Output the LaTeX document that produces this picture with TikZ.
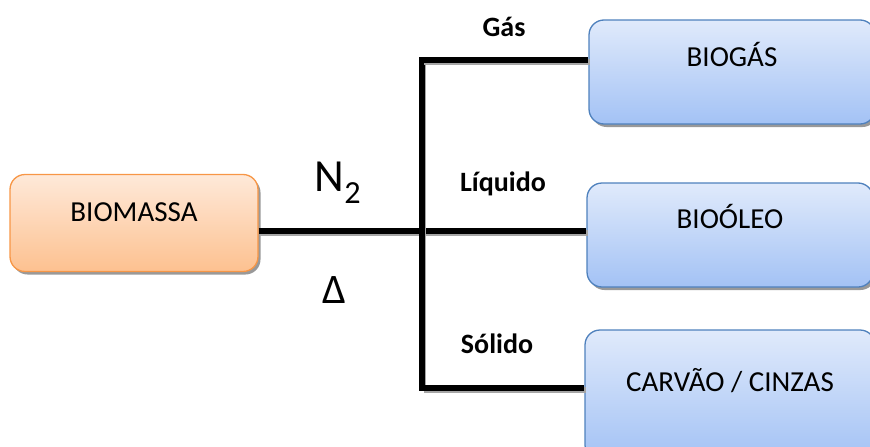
\documentclass[tikz,border=0pt]{standalone}
\usepackage{fontspec}
\setmainfont{Carlito}
\usetikzlibrary{shadows}
\definecolor{orTop}{HTML}{FEE9D9}
\definecolor{orBot}{HTML}{FDC190}
\definecolor{orLine}{HTML}{F79646}
\definecolor{blTop}{HTML}{E0EAFB}
\definecolor{blBot}{HTML}{A3C2F5}
\definecolor{blLine}{HTML}{4F81BD}
\newcommand{\uptext}[2]{\raisebox{#1}[0pt][0pt]{#2}}
\tikzset{
  boxbase/.style={rounded corners=15pt, line width=1.3pt, inner sep=0pt,
    font=\fontsize{29}{32}\selectfont,
    drop shadow={shadow xshift=2.5pt, shadow yshift=-3pt, fill=black!50, opacity=0.8}},
  orangebox/.style={boxbase, draw=orLine, top color=orTop, bottom color=orBot},
  bluebox/.style={boxbase, draw=blLine, top color=blTop, bottom color=blBot},
  conn/.style={line width=5.5pt, draw=black,
    preaction={draw=black!35, line width=5.5pt, transform canvas={xshift=1.5pt,yshift=-2pt}}},
  lbl/.style={font=\bfseries\fontsize{28}{32}\selectfont},
  sym/.style={font=\fontsize{42}{46}\selectfont}
}
\begin{document}
\begin{tikzpicture}[x=1pt,y=-1pt]
\useasboundingbox (0,0) rectangle (870,447);
\clip (0,0) rectangle (870,447);
% boxes
\node[orangebox, minimum width=248pt, minimum height=97pt] (bio) at (134,223) {\uptext{2pt}{BIOMASSA}};
\node[bluebox, minimum width=286pt, minimum height=104pt] (gas) at (732,72) {\uptext{6pt}{BIOGÁS}};
\node[bluebox, minimum width=286pt, minimum height=104pt] (oleo) at (730,235) {\uptext{7pt}{BIOÓLEO}};
\node[bluebox, minimum width=290pt, minimum height=130pt] (carv) at (730,395) {\uptext{4pt}{CARVÃO / CINZAS}};
% junction coordinates
\coordinate (j) at (422,231);
\coordinate (jt) at (422,60);
\coordinate (jb) at (422,388);
% connectors
\draw[conn] (bio.east |- j) -- (oleo.west |- j);
\draw[conn, line cap=rect] (jb) -- (jt);
\draw[conn] (jt) -- (gas.west |- jt);
\draw[conn] (jb) -- (carv.west |- jb);
% labels
\node[lbl] (lgas) at (504,27) {Gás};
\node[lbl] (lliq) at (503,184) {Líquido};
\node[lbl] (lsol) at (497,344) {Sólido};
\node[sym, font=\fontsize{46}{50}\selectfont] (n2) at (338,183) {N\textsubscript{2}};
\node[sym] (delta) at (334,290) {Δ};
\end{tikzpicture}
\end{document}
